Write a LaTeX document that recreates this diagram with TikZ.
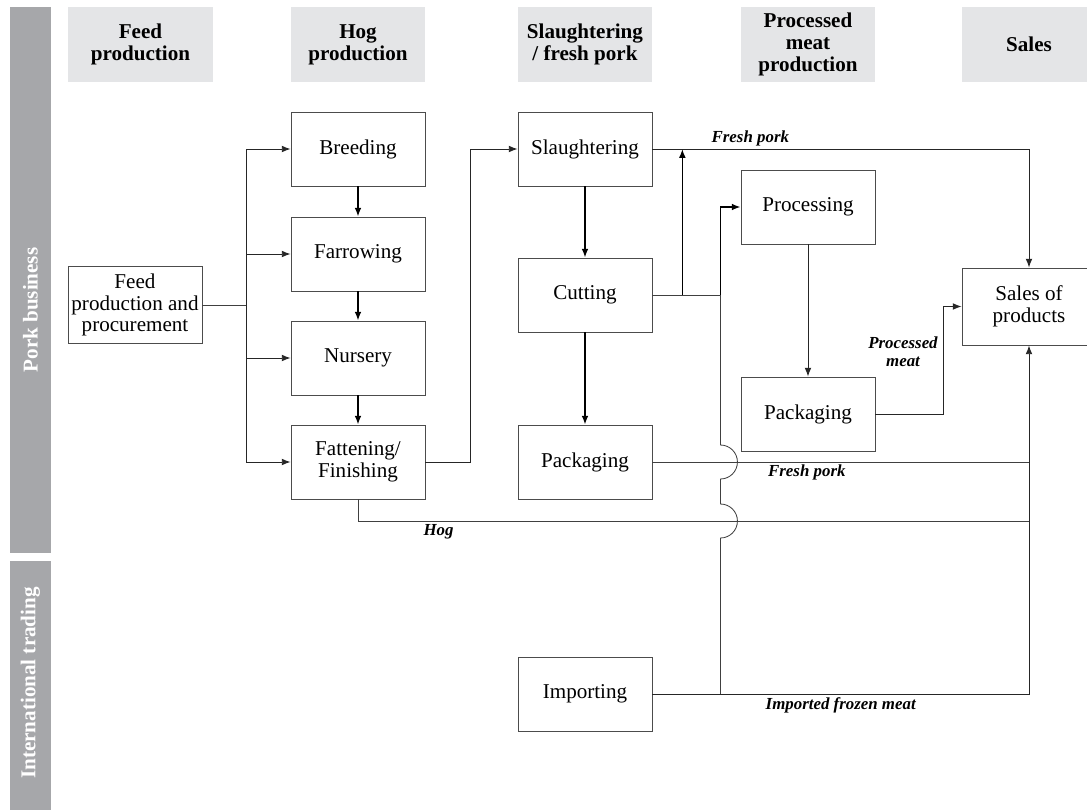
\documentclass[tikz,border=0pt]{standalone}
\usepackage{fontspec}
\setmainfont{Liberation Serif}
\usepackage{xcolor}
\usetikzlibrary{arrows.meta,calc,positioning}

\definecolor{headgray}{HTML}{E4E5E7}
\definecolor{bargray}{HTML}{A6A7AA}

\begin{document}
\begin{tikzpicture}[
  x=0.025cm,
  y=-0.025cm,
  stage/.style={
    draw=black!70,
    line width=0.6pt,
    minimum width=3.35cm,
    minimum height=1.85cm,
    align=center,
    font=\fontsize{15}{15.5}\selectfont,
    inner sep=2pt
  },
  header/.style={
    fill=headgray,
    minimum width=3.35cm,
    minimum height=1.875cm,
    align=center,
    font=\bfseries\fontsize{15}{15.5}\selectfont,
    inner sep=2pt
  },
  sidebar/.style={
    fill=bargray,
    minimum width=1.025cm,
    inner sep=0pt
  },
  bar label/.style={
    rotate=90,
    text=white,
    font=\bfseries\fontsize{15}{16}\selectfont
  },
  arrow/.style={
    -{Latex[length=2.2mm,width=1.7mm]},
    line width=0.7pt,
    black!85
  },
  strong arrow/.style={
    arrow,
    line width=1.1pt,
    black
  },
  link/.style={
    line width=0.6pt,
    black!75
  },
  flow label/.style={
    text=black,
    font=\bfseries\itshape\fontsize{12}{13}\selectfont,
    align=center,
    inner sep=2pt
  }
]
\useasboundingbox (0,0) rectangle (1087,810);

% Seitenbalken
\node[sidebar, minimum height=13.65cm] (porkbar) at (30.5,280) {};
\node[bar label] (porklabel) at (30.5,310) {Pork business};
\node[sidebar, minimum height=6.25cm] (intlbar) at (30.5,686) {};
\node[bar label] (intllabel) at (30.5,683) {International trading};

% Spaltenköpfe
\node[header, minimum width=3.625cm] (hfeed) at (140.5,44.5) {Feed\\production};
\node[header] (hhog) at (358,44.5) {Hog\\production};
\node[header] (hslaughter) at (585,44.5) {Slaughtering\\/ fresh pork};
\node[header] (hprocessed) at (808,44.5) {Processed\\meat\\production};
\node[header] (hsales) at (1029,44.5) {Sales};

% Stufen
\node[stage, minimum height=1.925cm] (feedproc) at (135,305) {Feed\\production and\\procurement};
\node[stage] (breeding) at (358,149) {Breeding};
\node[stage] (farrowing) at (358,254) {Farrowing};
\node[stage] (nursery) at (358,358) {Nursery};
\node[stage] (fattening) at (358,462) {Fattening/\\Finishing};
\node[stage] (slaughtering) at (585,149) {Slaughtering};
\node[stage] (cutting) at (585,295) {Cutting};
\node[stage] (packfresh) at (585,462) {Packaging};
\node[stage] (processing) at (808,207) {Processing};
\node[stage] (packproc) at (808,414) {Packaging};
\node[stage, minimum height=1.925cm] (sales) at (1029,306.5) {Sales of\\products};
\node[stage] (importing) at (585,694) {Importing};

% Futter -> Schweineproduktion
\draw[link] (feedproc.east) -- ++(44,0) coordinate (split);
\draw[arrow] (split) |- (breeding.west);
\draw[arrow] (split) |- (farrowing.west);
\draw[arrow] (split) |- (nursery.west);
\draw[arrow] (split) |- (fattening.west);

% Aufzucht
\draw[strong arrow] (breeding) -- (farrowing);
\draw[strong arrow] (farrowing) -- (nursery);
\draw[strong arrow] (nursery) -- (fattening);
\draw[arrow] (fattening.east) -- ++(45,0) |- (slaughtering.west);

% Schlachtung
\draw[strong arrow] (slaughtering) -- (cutting);
\draw[strong arrow] (cutting) -- (packfresh);
\draw[arrow] (slaughtering.east) -| node[flow label, above, pos=0.13] {Fresh pork} (sales.north);

% Zerlegung -> Verarbeitung
\draw[link] (cutting.east) -- ++(68,0) coordinate (cutjoin);
\path (cutting.east) -- (cutjoin) coordinate[pos=0.44] (upsplit);
\draw[strong arrow] (upsplit) -- (upsplit |- slaughtering.east);
\draw[strong arrow] (cutjoin) |- (processing.west);
\draw[arrow] (processing) -- (packproc);
\draw[arrow] (packproc.east) -- ++(68,0) |- (sales.west);
\node[flow label] (proclabel) at (903,352) {Processed\\meat};

% Frischfleisch und Schweine
\coordinate (hogrow) at (0,521);
\draw[link] (packfresh.east) -- node[flow label, below, pos=0.41] {Fresh pork} (sales.south |- packfresh.east);
\draw[link] (fattening.south) |- node[flow label, below, pos=0.56] {Hog} (sales.south |- hogrow);

% Import
\coordinate (impjoin) at (importing.east -| cutjoin);
\draw[arrow] (importing.east) -| node[flow label, below, pos=0.25] {Imported frozen meat} (sales.south);
\draw[link] (cutjoin)
  -- ($(cutjoin |- packfresh.east)+(0,-17)$)
  arc[start angle=-90, end angle=90, radius=17]
  -- ($(cutjoin |- hogrow)+(0,-17)$)
  arc[start angle=-90, end angle=90, radius=17]
  -- (impjoin);

\end{tikzpicture}
\end{document}
